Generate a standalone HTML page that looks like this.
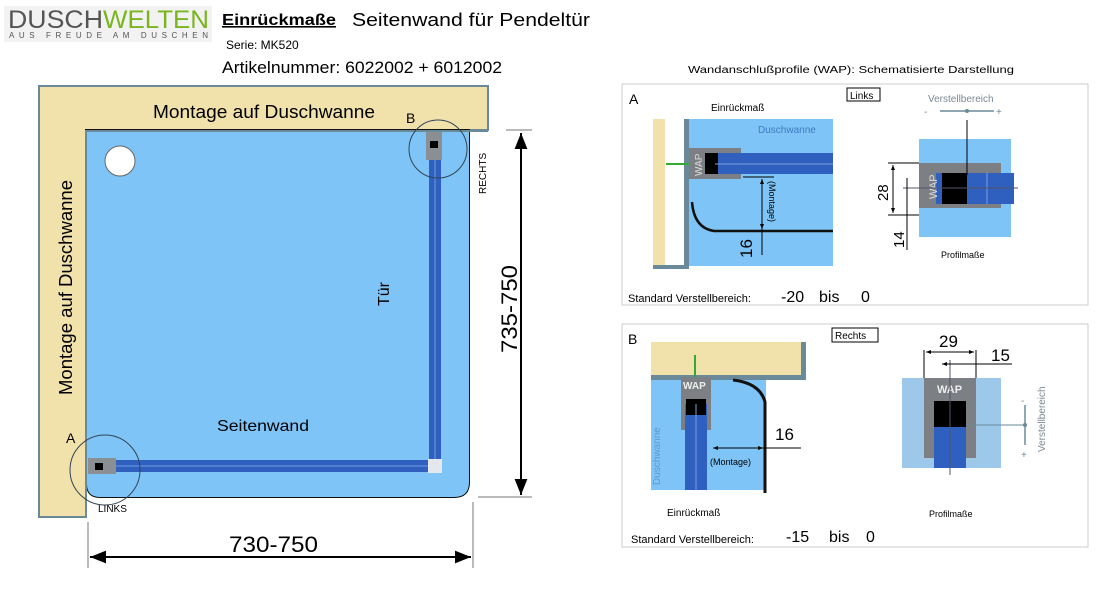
<!DOCTYPE html>
<html><head><meta charset="utf-8"><style>
html,body{margin:0;padding:0;background:#fff;}
svg{display:block;font-family:"Liberation Sans",sans-serif;}
</style></head><body>
<svg width="1116" height="592" viewBox="0 0 1116 592" xmlns="http://www.w3.org/2000/svg">
<defs>
<marker id="ah" viewBox="0 0 10 10" refX="10" refY="5" markerWidth="10" markerHeight="8" orient="auto-start-reverse"><path d="M0,1 L10,5 L0,9 Z" fill="#000"/></marker>
<marker id="sa" viewBox="0 0 10 10" refX="10" refY="5" markerWidth="5" markerHeight="5" orient="auto-start-reverse"><path d="M0,1 L10,5 L0,9 Z" fill="#000"/></marker>
</defs>
<!-- header -->
<rect x="4" y="6" width="208" height="36" fill="#f2f2f2"/>
<text x="8" y="28" font-size="25" fill="#555" textLength="95" lengthAdjust="spacingAndGlyphs">DUSCH</text>
<text x="103" y="28" font-size="25" fill="#7ab51d" textLength="106" lengthAdjust="spacingAndGlyphs">WELTEN</text>
<text x="9" y="38" font-size="8" fill="#555" textLength="199" lengthAdjust="spacing">AUS FREUDE AM DUSCHEN</text>
<text x="222" y="25" font-size="16" font-weight="bold" text-decoration="underline" textLength="114" lengthAdjust="spacingAndGlyphs">Einrückmaße</text>
<text x="352" y="26" font-size="18" textLength="238" lengthAdjust="spacingAndGlyphs">Seitenwand für Pendeltür</text>
<text x="226" y="49" font-size="12">Serie:  MK520</text>
<text x="222" y="73" font-size="17" textLength="280" lengthAdjust="spacingAndGlyphs">Artikelnummer: 6022002 + 6012002</text>

<!-- main diagram -->
<path d="M39,86 H488 V130 H86 V517 H39 Z" fill="#f1e2ac" stroke="#6b8a99" stroke-width="2"/>
<path d="M86,130 H469 V482 Q469,497 454,497 H100 Q87,497 87,484 Z" fill="#7fc4f6" stroke="#111" stroke-width="2"/>
<path d="M86,131 H469 V482 Q469,497 454,497 H100 Q87,497 87,484 Z" fill="#7fc4f6" stroke="none"/>
<line x1="86" y1="130" x2="86" y2="497" stroke="#6b8a99" stroke-width="2"/>
<line x1="86" y1="131" x2="488" y2="131" stroke="#6b8a99" stroke-width="2"/>
<circle cx="120" cy="161" r="15" fill="#fff" stroke="#666"/>
<text x="153" y="118" font-size="18" textLength="222" lengthAdjust="spacingAndGlyphs">Montage auf Duschwanne</text>
<text transform="translate(72,395) rotate(-90)" font-size="18" textLength="215" lengthAdjust="spacingAndGlyphs">Montage auf Duschwanne</text>
<text x="217" y="431" font-size="16" textLength="92" lengthAdjust="spacingAndGlyphs">Seitenwand</text>
<text transform="translate(389,306) rotate(-90)" font-size="16">Tür</text>
<!-- door -->
<rect x="429" y="132" width="12" height="330" fill="#2f5fbf"/>
<line x1="435" y1="132" x2="435" y2="460" stroke="#5b8ad8" stroke-width="1.5"/>
<rect x="426" y="132" width="16" height="28" fill="#8a8f94"/>
<rect x="430" y="141" width="8" height="7" fill="#000"/>
<!-- side wall -->
<rect x="90" y="460" width="340" height="12" fill="#2f5fbf"/>
<line x1="90" y1="466" x2="430" y2="466" stroke="#5b8ad8" stroke-width="1.5"/>
<rect x="88" y="458" width="28" height="16" fill="#8a8f94"/>
<rect x="95" y="463" width="8" height="7" fill="#000"/>
<rect x="428" y="459" width="14" height="14" fill="#e4e8ec"/>
<circle cx="438" cy="149" r="29" fill="none" stroke="#345" stroke-width="1"/>
<circle cx="105" cy="470" r="35" fill="none" stroke="#345" stroke-width="1"/>
<text x="406" y="123" font-size="14">B</text>
<text x="66" y="443" font-size="14">A</text>
<text x="98" y="512" font-size="10">LINKS</text>
<text transform="translate(486,194) rotate(-90)" font-size="10">RECHTS</text>
<!-- dims -->
<line x1="521" y1="133" x2="521" y2="495" stroke="#000" stroke-width="2" marker-start="url(#ah)" marker-end="url(#ah)"/>
<line x1="506" y1="130" x2="532" y2="130" stroke="#777"/>
<line x1="478" y1="497" x2="532" y2="497" stroke="#777"/>
<text transform="translate(517,353) rotate(-90)" font-size="22" textLength="88" lengthAdjust="spacingAndGlyphs">735-750</text>
<line x1="90" y1="557" x2="471" y2="557" stroke="#000" stroke-width="2" marker-start="url(#ah)" marker-end="url(#ah)"/>
<line x1="88" y1="522" x2="88" y2="568" stroke="#777"/>
<line x1="473" y1="502" x2="473" y2="568" stroke="#777"/>
<text x="229" y="552" font-size="22" textLength="89" lengthAdjust="spacingAndGlyphs">730-750</text>

<!-- right title -->
<text x="688" y="73" font-size="10" textLength="326" lengthAdjust="spacingAndGlyphs">Wandanschlußprofile (WAP): Schematisierte Darstellung</text>

<!-- Panel A -->
<rect x="622" y="84" width="466" height="221" fill="#fff" stroke="#ccc"/>
<text x="629" y="104" font-size="14">A</text>
<text x="711" y="111" font-size="10">Einrückmaß</text>
<rect x="847" y="88" width="33" height="13" fill="#fff" stroke="#000"/>
<text x="850" y="99" font-size="10">Links</text>
<rect x="653" y="119" width="12" height="150" fill="#f1e2ac"/>
<rect x="653" y="265" width="36" height="4" fill="#6b8a99"/>
<rect x="684" y="119" width="5" height="150" fill="#6b8a99"/>
<rect x="689" y="119" width="144" height="147" fill="#7fc4f6"/>
<text x="758" y="133" font-size="10" fill="#3a7cc4">Duschwanne</text>
<line x1="666" y1="164" x2="689" y2="164" stroke="#3a3" stroke-width="2"/>
<rect x="689" y="148" width="52" height="31" fill="#7c7f84"/>
<rect x="705" y="153" width="128" height="21" fill="#2f5fbf"/>
<rect x="705" y="153" width="13" height="21" fill="#000"/>
<line x1="715" y1="164" x2="833" y2="164" stroke="#7c9fe0"/>
<text transform="translate(702,176) rotate(-90)" font-size="10" fill="#ddd">WAP</text>
<path d="M692,202 Q694,228 714,231 H833" fill="none" stroke="#111" stroke-width="2.5"/>
<line x1="743" y1="177" x2="774" y2="177" stroke="#000"/>
<line x1="762" y1="179" x2="762" y2="229" stroke="#000" marker-start="url(#sa)" marker-end="url(#sa)"/>
<line x1="762" y1="229" x2="762" y2="255" stroke="#000"/>
<text transform="translate(769,181) rotate(90)" font-size="9">(Montage)</text>
<text transform="translate(752,258) rotate(-90)" font-size="17">16</text>
<!-- profile A -->
<text x="928" y="102" font-size="10" fill="#7a8a94">Verstellbereich</text>
<line x1="940" y1="111" x2="994" y2="111" stroke="#6a8a9a" stroke-width="1.5"/>
<text x="924" y="115" font-size="10" fill="#6a8a9a">-</text><text x="996" y="115" font-size="10" fill="#6a8a9a">+</text>
<circle cx="967" cy="111" r="2" fill="#6a8a9a"/>
<rect x="919" y="139" width="92" height="98" fill="#7fc4f6"/>
<rect x="919" y="163" width="82" height="45" fill="#7c7f84"/>
<rect x="936" y="173" width="78" height="31" fill="#2f5fbf"/>
<rect x="942" y="173" width="25" height="31" fill="#000"/>
<line x1="987" y1="173" x2="987" y2="204" stroke="#7c9fe0"/>
<text transform="translate(937,199) rotate(-90)" font-size="11" fill="#ddd">WAP</text>
<line x1="967" y1="120" x2="967" y2="175" stroke="#000"/>
<line x1="903" y1="188" x2="1018" y2="188" stroke="#556"/>
<line x1="888" y1="163" x2="919" y2="163" stroke="#000"/>
<line x1="888" y1="215" x2="919" y2="215" stroke="#000"/>
<line x1="893" y1="165" x2="893" y2="213" stroke="#000" marker-start="url(#sa)" marker-end="url(#sa)"/>
<line x1="907" y1="178" x2="907" y2="250" stroke="#000"/>
<text transform="translate(888,201) rotate(-90)" font-size="15">28</text>
<text transform="translate(904,248) rotate(-90)" font-size="15">14</text>
<text x="941" y="258" font-size="9">Profilmaße</text>
<text x="628" y="302" font-size="11">Standard Verstellbereich:</text>
<text x="781" y="302" font-size="16">-20</text>
<text x="819" y="302" font-size="16">bis</text>
<text x="861" y="302" font-size="16">0</text>

<!-- Panel B -->
<rect x="622" y="324" width="466" height="223" fill="#fff" stroke="#ccc"/>
<text x="628" y="344" font-size="14">B</text>
<rect x="832" y="328" width="46" height="14" fill="#fff" stroke="#000"/>
<text x="835" y="339" font-size="10">Rechts</text>
<rect x="651" y="342" width="155" height="33" fill="#f1e2ac"/>
<rect x="801" y="342" width="5" height="38" fill="#6b8a99"/>
<rect x="651" y="375" width="155" height="5" fill="#6b8a99"/>
<rect x="651" y="380" width="115" height="110" fill="#7fc4f6"/>
<line x1="695" y1="355" x2="695" y2="377" stroke="#3a3" stroke-width="2"/>
<rect x="681" y="377" width="30" height="53" fill="#7c7f84"/>
<rect x="685" y="404" width="22" height="86" fill="#2f5fbf"/>
<rect x="686" y="399" width="20" height="16" fill="#000"/>
<line x1="696" y1="404" x2="696" y2="490" stroke="#7c9fe0"/>
<text x="683" y="389" font-size="10" fill="#eee" font-weight="bold">WAP</text>
<text transform="translate(660,485) rotate(-90)" font-size="10" fill="#5b9ad0">Duschwanne</text>
<path d="M733,380 Q760,383 765,402 V493" fill="none" stroke="#111" stroke-width="3"/>
<line x1="713" y1="448" x2="763" y2="448" stroke="#000" marker-start="url(#sa)" marker-end="url(#sa)"/>
<line x1="763" y1="448" x2="801" y2="448" stroke="#000"/>
<text x="710" y="465" font-size="9">(Montage)</text>
<text x="775" y="440" font-size="17">16</text>
<text x="667" y="516" font-size="10">Einrückmaß</text>
<!-- profile B -->
<rect x="902" y="378" width="99" height="90" fill="#9dc8ea"/>
<rect x="924" y="378" width="52" height="80" fill="#7c7f84"/>
<text x="937" y="393" font-size="11" fill="#eee" font-weight="bold">WAP</text>
<rect x="934" y="401" width="32" height="67" fill="#2f5fbf"/>
<rect x="934" y="401" width="32" height="26" fill="#000"/>
<line x1="950" y1="360" x2="950" y2="475" stroke="#556"/>
<line x1="924" y1="350" x2="924" y2="378" stroke="#000"/>
<line x1="976" y1="350" x2="976" y2="378" stroke="#000"/>
<line x1="926" y1="352" x2="974" y2="352" stroke="#000" marker-start="url(#sa)" marker-end="url(#sa)"/>
<line x1="942" y1="364" x2="1012" y2="364" stroke="#000" marker-start="url(#sa)"/>
<text x="939" y="347" font-size="17">29</text>
<text x="991" y="361" font-size="17">15</text>
<line x1="966" y1="425" x2="1025" y2="425" stroke="#6a8a9a"/>
<line x1="1025" y1="405" x2="1025" y2="445" stroke="#6a8a9a" stroke-width="1.5"/>
<circle cx="1025" cy="425" r="2" fill="#6a8a9a"/>
<text transform="translate(1045,452) rotate(-90)" font-size="10" fill="#7a8a94">Verstellbereich</text>
<text x="1021" y="404" font-size="10" fill="#6a8a9a">-</text>
<text x="1021" y="458" font-size="10" fill="#6a8a9a">+</text>
<text x="929" y="517" font-size="9">Profilmaße</text>
<text x="631" y="543" font-size="11">Standard Verstellbereich:</text>
<text x="786" y="542" font-size="16">-15</text>
<text x="829" y="542" font-size="16">bis</text>
<text x="866" y="542" font-size="16">0</text>
</svg>
</body></html>
